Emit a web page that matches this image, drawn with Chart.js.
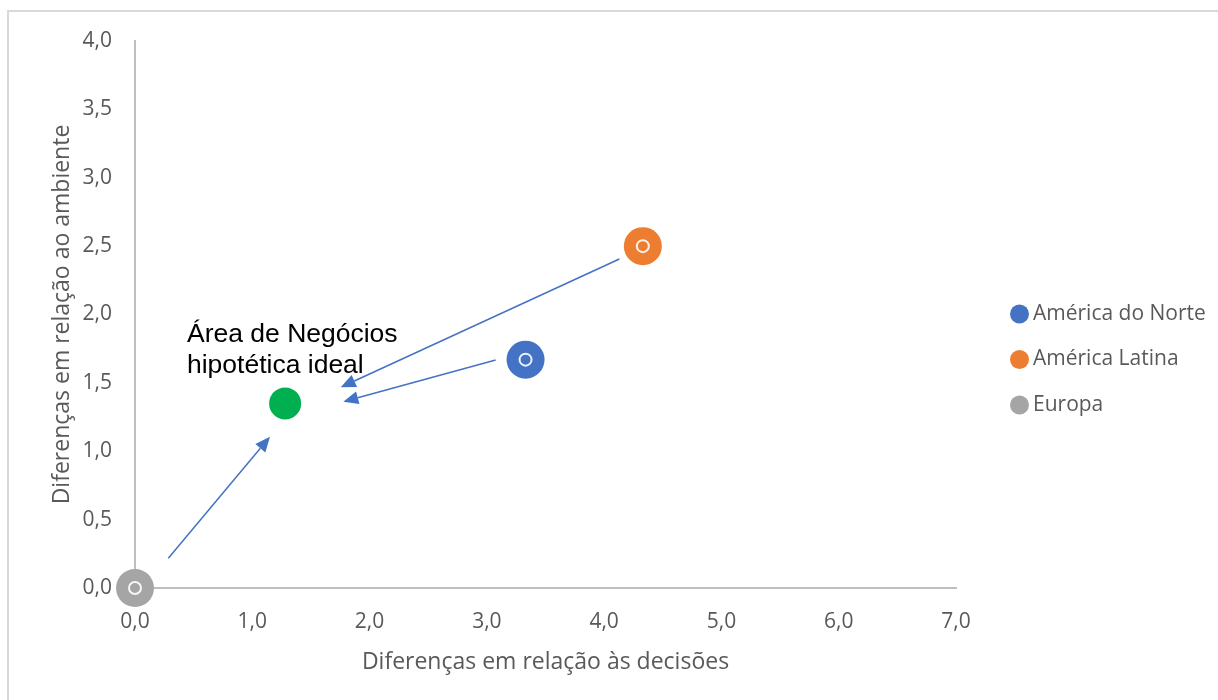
<!DOCTYPE html>
<html>
<head>
<meta charset="utf-8">
<script src="https://cdn.jsdelivr.net/npm/chart.js@4/dist/chart.umd.min.js"></script>
<style>
  html, body { margin: 0; padding: 0; background: #ffffff; overflow: hidden; }
  #frame { position: absolute; left: 7px; top: 10px; width: 1400px; height: 900px; border: 2px solid #d9d9d9; }
  #wrap { position: absolute; left: 0; top: 0; width: 1218px; height: 700px; }
</style>
</head>
<body>
<div id="frame"></div>
<div id="wrap"><canvas id="c" width="1218" height="700"></canvas></div>
<script>
// ---- data ----
const seriesNames = ['América do Norte', 'América Latina', 'Europa'];
const decisoes = [3.33, 4.33, 0.0];   // x values
const ambiente = [1.67, 2.50, 0.0];   // y values
const seriesColors = ['#4472C4', '#ED7D31', '#A5A5A5'];
const idealName = 'Área de Negócios hipotética ideal';
const idealX = [1.28];
const idealY = [1.35];
const idealLines = ['Área de Negócios', 'hipotética ideal'];
const idealLabelAnchor = [0.443, 1.80];   // data coords of label's first-line baseline start
// arrows: from (x,y) to (x,y) in data coords
const arrowFromX = [4.13, 3.075, 0.284];
const arrowFromY = [2.406, 1.667, 0.217];
const arrowToX = [1.754, 1.776, 1.151];
const arrowToY = [1.468, 1.362, 1.106];
const xTickLabels = ['0,0', '1,0', '2,0', '3,0', '4,0', '5,0', '6,0', '7,0'];
const yTickLabels = ['0,0', '0,5', '1,0', '1,5', '2,0', '2,5', '3,0', '3,5', '4,0'];
const xTitle = 'Diferenças em relação às decisões';
const yTitle = 'Diferenças em relação ao ambiente';

// ---- layout constants ----
const W = 1218, H = 700;
const PLOT_LEFT = 135, PLOT_RIGHT = 956, PLOT_TOP = 41, PLOT_BOTTOM = 588;
const PAD_LEFT = 20, PAD_BOTTOM = 22;
const FAMILY = '"Open Sans", sans-serif';
const LEG_FS = 21, LEG_PAD = 24.5, LEG_BOXW = 6, LEG_BOXH = 13.4;
const LEG_CIRCLE_X = 1019.5;
const legendLeft = LEG_CIRCLE_X - LEG_BOXW / 2 - LEG_PAD;
const tickFont = { family: FAMILY, size: 21 };
const titleFont = { family: FAMILY, size: 23 };
const legendFont = { family: FAMILY, size: LEG_FS };

// measure legend text to place legend exactly
const mctx = document.createElement('canvas').getContext('2d');
mctx.font = `${LEG_FS}px ${FAMILY}`;
let maxText = 0;
seriesNames.forEach(n => { maxText = Math.max(maxText, mctx.measureText(n).width); });
const legendW = LEG_PAD + (LEG_BOXW + LEG_FS / 2 + maxText) + 10;
const padRight = Math.max(0, W - legendLeft - legendW);

const datasets = seriesNames.map((name, i) => ({
  label: name,
  data: [{ x: decisoes[i], y: ambiente[i] }],
  backgroundColor: seriesColors[i],
  borderColor: seriesColors[i],
  borderWidth: 0,
  pointRadius: 19,
  pointHoverRadius: 19,
  pointStyle: 'circle',
  order: 1,
  clip: false
}));
datasets.push({
  label: idealName,
  data: idealX.map((x, i) => ({ x, y: idealY[i] })),
  backgroundColor: '#00B050',
  borderColor: '#00B050',
  borderWidth: 0,
  pointRadius: 16,
  pointStyle: 'circle',
  order: 1,
  clip: false
});
datasets.push({
  label: 'rings',
  data: decisoes.map((x, i) => ({ x, y: ambiente[i] })),
  backgroundColor: 'rgba(0,0,0,0)',
  borderColor: '#ffffff',
  pointBorderColor: 'rgba(255,255,255,0.9)',
  pointBorderWidth: 2,
  borderWidth: 2,
  pointRadius: 6,
  pointStyle: 'circle',
  order: -1,
  clip: false
});

const overlay = {
  id: 'overlay',
  afterDatasetsDraw(chart) {
    const ctx = chart.ctx, xs = chart.scales.x, ys = chart.scales.y;
    ctx.save();
    ctx.strokeStyle = '#4472C4';
    ctx.fillStyle = '#4472C4';
    ctx.lineWidth = 1.5;
    for (let i = 0; i < arrowFromX.length; i++) {
      const x1 = xs.getPixelForValue(arrowFromX[i]), y1 = ys.getPixelForValue(arrowFromY[i]);
      const x2 = xs.getPixelForValue(arrowToX[i]), y2 = ys.getPixelForValue(arrowToY[i]);
      const ang = Math.atan2(y2 - y1, x2 - x1);
      const L = 15, hw = 6.5;
      const bx = x2 - L * Math.cos(ang), by = y2 - L * Math.sin(ang);
      ctx.beginPath();
      ctx.moveTo(x1, y1);
      ctx.lineTo(bx, by);
      ctx.stroke();
      ctx.beginPath();
      ctx.moveTo(x2, y2);
      ctx.lineTo(bx + hw * Math.sin(ang), by - hw * Math.cos(ang));
      ctx.lineTo(bx - hw * Math.sin(ang), by + hw * Math.cos(ang));
      ctx.closePath();
      ctx.fill();
    }
    ctx.fillStyle = '#000000';
    ctx.font = '26.5px "Liberation Sans", Arial, sans-serif';
    ctx.textAlign = 'left';
    ctx.textBaseline = 'alphabetic';
    const ax = xs.getPixelForValue(idealLabelAnchor[0]);
    const ay = ys.getPixelForValue(idealLabelAnchor[1]);
    idealLines.forEach((t, i) => ctx.fillText(t, ax, ay + i * 31.5));
    ctx.restore();
  }
};

new Chart(document.getElementById('c'), {
  type: 'scatter',
  data: { datasets },
  plugins: [overlay],
  options: {
    responsive: false,
    animation: false,
    events: [],
    layout: { padding: { left: PAD_LEFT, top: PLOT_TOP, right: padRight, bottom: PAD_BOTTOM } },
    plugins: {
      tooltip: { enabled: false },
      legend: {
        display: true,
        position: 'right',
        align: 'center',
        maxWidth: 400,
        labels: {
          usePointStyle: true,
          pointStyle: 'circle',
          boxWidth: LEG_BOXW,
          boxHeight: LEG_BOXH,
          padding: LEG_PAD,
          color: '#595959',
          font: legendFont,
          filter: item => item.datasetIndex < 3
        }
      }
    },
    scales: {
      x: {
        type: 'linear',
        min: 0, max: 7,
        ticks: { stepSize: 1, color: '#595959', font: tickFont, padding: 21.5,
                 callback: (v, i) => xTickLabels[i] },
        grid: { display: false, drawTicks: false },
        border: { display: true, color: '#BFBFBF', width: 2 },
        title: { display: true, text: xTitle, color: '#595959', font: titleFont, padding: { top: 0, bottom: 2 } },
        afterFit: s => { s.height = H - PAD_BOTTOM - PLOT_BOTTOM; }
      },
      y: {
        type: 'linear',
        min: 0, max: 4,
        ticks: { stepSize: 0.5, color: '#595959', font: tickFont, padding: 23,
                 callback: (v, i) => yTickLabels[i] },
        grid: { display: false, drawTicks: false },
        border: { display: true, color: '#BFBFBF', width: 2 },
        title: { display: true, text: yTitle, color: '#595959', font: titleFont, padding: { top: 29, bottom: 0 } },
        afterFit: s => { s.width = PLOT_LEFT - PAD_LEFT; }
      },
      gap: {
        type: 'linear',
        position: 'right',
        display: true,
        ticks: { display: false },
        grid: { display: false, drawTicks: false },
        border: { display: false },
        afterFit: s => { s.width = legendLeft - PLOT_RIGHT; }
      }
    }
  }
});
</script>
</body>
</html>
